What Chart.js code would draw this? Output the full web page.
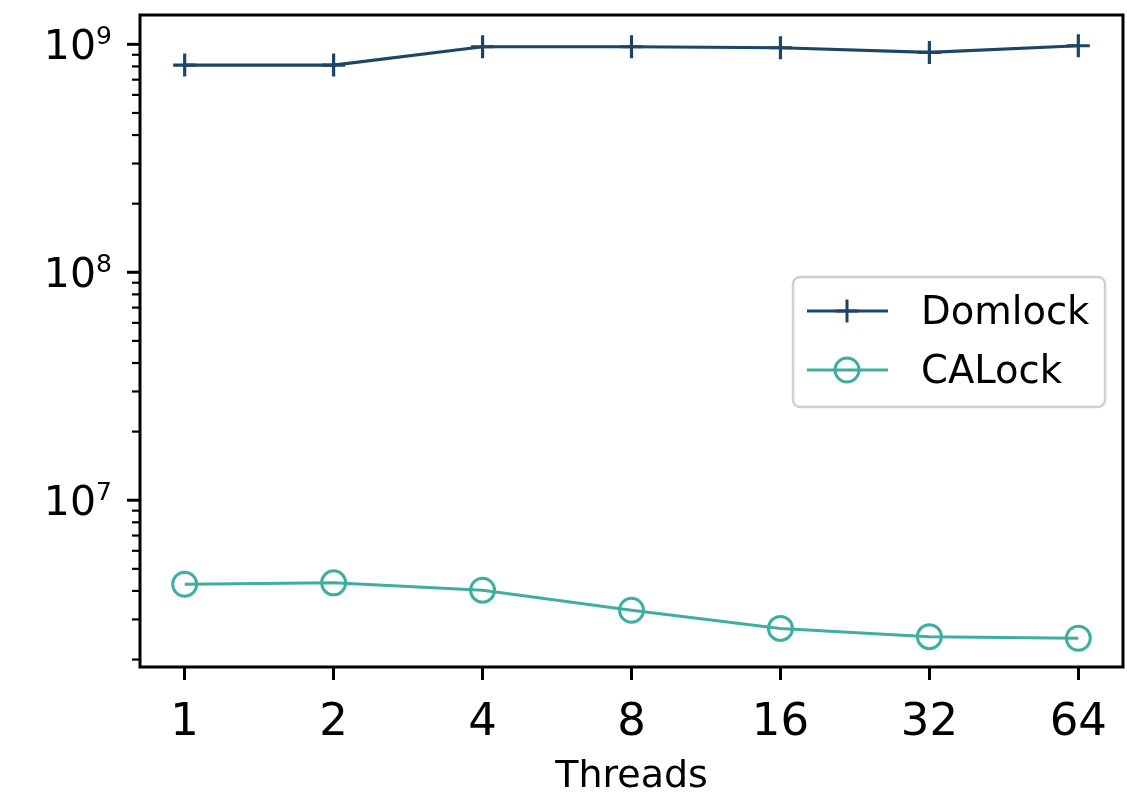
<!DOCTYPE html>
<html>
<head>
<meta charset="utf-8">
<script src="https://cdn.jsdelivr.net/npm/chart.js@4"></script>
<style>
  html, body { margin: 0; padding: 0; background: #fff; }
  #wrap { width: 1127px; height: 802px; }
</style>
</head>
<body>
<div id="wrap"><canvas id="lockChart" width="1127" height="802"></canvas></div>
<script>
// values
const threads = ['1', '2', '4', '8', '16', '32', '64'];
const domlock = [8.11e8, 8.11e8, 9.76e8, 9.76e8, 9.66e8, 9.22e8, 9.86e8];
const calock = [4.28e6, 4.34e6, 4.03e6, 3.29e6, 2.74e6, 2.52e6, 2.48e6];
const yMin = 1.855e6;
const yMax = 1.345e9;
const yMajors = [1e7, 1e8, 1e9];

const FONT = '"DejaVu Sans", sans-serif';

function toPoints(arr) {
  return arr.map((v, i) => ({ x: i, y: v }));
}

// frame, log ticks with superscript labels, legend box
const extras = {
  id: 'extras',
  afterDraw(chart) {
    const ctx = chart.ctx;
    const area = chart.chartArea;
    const y = chart.scales.y;
    ctx.save();

    // minor + major y ticks
    ctx.strokeStyle = '#000';
    for (let e = 6; e <= 9; e++) {
      for (let k = 1; k <= 9; k++) {
        const v = k * Math.pow(10, e);
        if (v < yMin || v > yMax) continue;
        const py = y.getPixelForValue(v);
        const major = k === 1;
        ctx.lineWidth = major ? 3 : 2.2;
        ctx.beginPath();
        ctx.moveTo(area.left, py);
        ctx.lineTo(area.left - (major ? 13 : 8), py);
        ctx.stroke();
      }
    }

    // y labels like 10^9
    ctx.fillStyle = '#000';
    yMajors.forEach(v => {
      const py = y.getPixelForValue(v);
      const exp = String(Math.round(Math.log10(v)));
      ctx.font = '41px ' + FONT;
      ctx.textAlign = 'right';
      ctx.textBaseline = 'alphabetic';
      ctx.fillText('10', 96, py + 14.5);
      ctx.font = '25px ' + FONT;
      ctx.textAlign = 'left';
      ctx.fillText(exp, 96, py);
    });

    // frame
    ctx.lineWidth = 3;
    ctx.strokeStyle = '#000';
    ctx.strokeRect(area.left, area.top, area.right - area.left, area.bottom - area.top);

    // legend
    const lx = 793, ly = 277, lw = 312, lh = 130;
    ctx.beginPath();
    ctx.roundRect(lx, ly, lw, lh, 7);
    ctx.fillStyle = 'rgba(255,255,255,0.8)';
    ctx.fill();
    ctx.lineWidth = 2.5;
    ctx.strokeStyle = '#d0d0d0';
    ctx.stroke();

    chart.data.datasets.forEach((ds, i) => {
      const ry = 311 + i * 59;
      ctx.strokeStyle = ds.borderColor;
      ctx.lineWidth = 3;
      ctx.beginPath();
      ctx.moveTo(807, ry);
      ctx.lineTo(888, ry);
      ctx.stroke();
      const r = ds.pointRadius;
      ctx.beginPath();
      if (ds.pointStyle === 'cross') {
        ctx.moveTo(847, ry - r); ctx.lineTo(847, ry + r);
        ctx.moveTo(847 - r, ry); ctx.lineTo(847 + r, ry);
      } else {
        ctx.arc(847, ry, r, 0, Math.PI * 2);
      }
      ctx.stroke();
      ctx.fillStyle = '#000';
      ctx.font = '38.5px ' + FONT;
      ctx.textAlign = 'left';
      ctx.textBaseline = 'alphabetic';
      ctx.fillText(ds.label, 921, ry + 13);
    });

    ctx.restore();
  }
};

const chart = new Chart(document.getElementById('lockChart'), {
  type: 'line',
  data: {
    datasets: [
      {
        label: 'Domlock',
        data: toPoints(domlock),
        borderColor: '#1d4566',
        backgroundColor: '#1d4566',
        borderWidth: 3.2,
        pointStyle: 'cross',
        pointRadius: 11.5,
        pointBorderWidth: 3.2,
        tension: 0
      },
      {
        label: 'CALock',
        data: toPoints(calock),
        borderColor: '#3eaf9f',
        backgroundColor: 'rgba(0,0,0,0)',
        borderWidth: 3,
        pointStyle: 'circle',
        pointRadius: 12,
        pointBorderWidth: 3,
        tension: 0
      }
    ]
  },
  options: {
    responsive: false,
    animation: false,
    devicePixelRatio: 1,
    layout: { autoPadding: false, padding: { top: 15, right: 4, left: 0, bottom: 0 } },
    plugins: {
      legend: { display: false },
      tooltip: { enabled: false }
    },
    scales: {
      x: {
        type: 'linear',
        min: -0.3,
        max: 6.3,
        afterBuildTicks: (scale) => {
          scale.ticks = threads.map((t, i) => ({ value: i }));
        },
        afterFit: (scale) => {
          scale.height = 135;
          scale.paddingLeft = 0;
          scale.paddingRight = 0;
        },
        border: { display: false },
        grid: {
          drawOnChartArea: false,
          tickLength: 13,
          tickWidth: 3,
          tickColor: '#000'
        },
        ticks: {
          autoSkip: false,
          maxRotation: 0,
          padding: 16,
          color: '#000',
          font: { family: FONT, size: 45 },
          callback: (value) => threads[value]
        },
        title: {
          display: true,
          text: 'Threads',
          color: '#000',
          font: { family: FONT, size: 38 },
          padding: { top: 0, bottom: 2 }
        }
      },
      y: {
        type: 'logarithmic',
        min: yMin,
        max: yMax,
        afterFit: (scale) => {
          scale.width = 140;
          scale.paddingTop = 0;
          scale.paddingBottom = 0;
        },
        border: { display: false },
        grid: { display: false },
        ticks: { display: false }
      }
    }
  },
  plugins: [extras]
});
</script>
</body>
</html>
